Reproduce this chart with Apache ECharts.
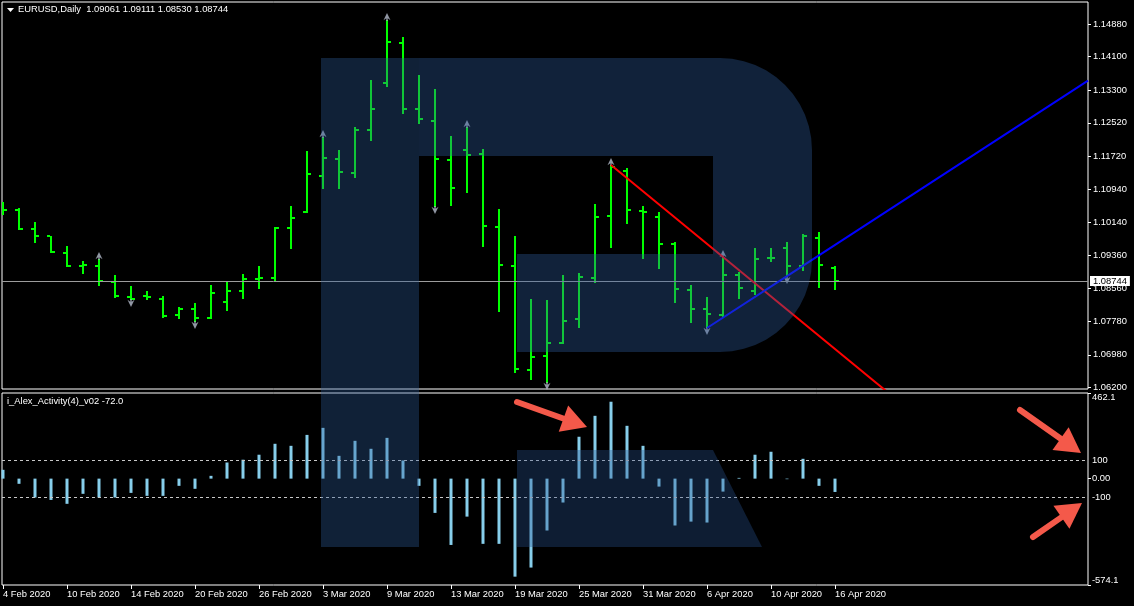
<!DOCTYPE html>
<html>
<head>
<meta charset="utf-8">
<style>
html,body{margin:0;padding:0;background:#000;}
#chart{width:1134px;height:606px;}
</style>
<script src="https://cdn.jsdelivr.net/npm/echarts@6/dist/echarts.min.js"></script>
</head>
<body>
<div id="chart"></div>
<script>
// ---------- DATA ----------
const symbolName = 'EURUSD,Daily';
const indicatorName = 'i_Alex_Activity(4)_v02';
const dates = [
  '4 Feb 2020','5 Feb 2020','6 Feb 2020','7 Feb 2020','10 Feb 2020','11 Feb 2020','12 Feb 2020','13 Feb 2020','14 Feb 2020','17 Feb 2020',
  '18 Feb 2020','19 Feb 2020','20 Feb 2020','21 Feb 2020','24 Feb 2020','25 Feb 2020','26 Feb 2020','27 Feb 2020','28 Feb 2020','2 Mar 2020',
  '3 Mar 2020','4 Mar 2020','5 Mar 2020','6 Mar 2020','9 Mar 2020','10 Mar 2020','11 Mar 2020','12 Mar 2020','13 Mar 2020','16 Mar 2020',
  '17 Mar 2020','18 Mar 2020','19 Mar 2020','20 Mar 2020','23 Mar 2020','24 Mar 2020','25 Mar 2020','26 Mar 2020','27 Mar 2020','30 Mar 2020',
  '31 Mar 2020','1 Apr 2020','2 Apr 2020','3 Apr 2020','6 Apr 2020','7 Apr 2020','8 Apr 2020','9 Apr 2020','10 Apr 2020','13 Apr 2020',
  '14 Apr 2020','15 Apr 2020','16 Apr 2020'
];
const openP = [1.10582,1.10438,1.09985,1.09817,1.09411,1.09101,1.09101,1.08719,1.08361,1.08385,
  1.08313,1.07931,1.08074,1.07859,1.08241,1.08504,1.08791,1.08814,1.10008,1.10390,
  1.11250,1.11656,1.11322,1.12349,1.13471,1.14426,1.12850,1.12564,1.11632,1.11871,
  1.11776,1.10032,1.09101,1.06617,1.06952,1.07262,1.07835,1.08814,1.10295,1.11370,
  1.10414,1.10271,1.09626,1.08528,1.08074,1.07931,1.08886,1.08504,1.09292,1.09531,
  1.09101,1.09770,1.09061];
const highP = [1.10629,1.10486,1.10152,1.09817,1.09579,1.09220,1.09268,1.08886,1.08623,1.08504,
  1.08385,1.08122,1.08217,1.08647,1.08719,1.08910,1.09101,1.10032,1.10534,1.11847,
  1.12181,1.11871,1.12420,1.13543,1.14975,1.14569,1.13662,1.13328,1.12205,1.12420,
  1.11895,1.10462,1.09817,1.08313,1.08289,1.08886,1.08934,1.10582,1.11513,1.11441,
  1.10534,1.10390,1.09674,1.08647,1.08361,1.09316,1.08958,1.09531,1.09531,1.09674,
  1.09865,1.09913,1.09111];
const lowP = [1.10319,1.09961,1.09650,1.09411,1.09077,1.08910,1.08623,1.08337,1.08289,1.08289,
  1.07859,1.07835,1.07764,1.07835,1.08026,1.08313,1.08552,1.08743,1.09507,1.10367,
  1.10940,1.10940,1.11202,1.12086,1.13375,1.12731,1.12492,1.10510,1.10534,1.10844,
  1.09555,1.08002,1.06546,1.06379,1.06307,1.07238,1.07620,1.08695,1.09531,1.10104,
  1.09268,1.09029,1.08217,1.07740,1.07620,1.07859,1.08313,1.08408,1.09196,1.08838,
  1.08982,1.08576,1.08530];
const closeP = [1.10438,1.09985,1.09817,1.09435,1.09101,1.09125,1.08743,1.08385,1.08313,1.08361,
  1.07907,1.08074,1.07859,1.08456,1.08504,1.08791,1.08814,1.10008,1.10247,1.11298,
  1.11680,1.11346,1.12349,1.12850,1.14450,1.12850,1.12611,1.11656,1.10964,1.11752,
  1.10056,1.09125,1.06641,1.06928,1.07262,1.07788,1.08838,1.10271,1.11465,1.10438,
  1.10390,1.09626,1.08552,1.08074,1.07955,1.08886,1.08576,1.09268,1.09292,1.09101,
  1.09817,1.09125,1.08744];
const activity = [47.6,-28,-102,-115,-136,-82,-102,-102,-77,-93,
  -93,-39,-55,15,87,102,129,188,177,236,
  274,123,204,161,220,98,-39,-185,-358,-205,
  -352,-352,-529,-480,-280,-129,226,339,415,285,
  177,-43,-253,-232,-237,-70,4,129,145,-3,
  107,-39,-72.0];
const fractalUpIdx = [6,20,24,29,38,45];
const fractalDownIdx = [8,12,27,34,44,49];
const redTrend = [[38,1.11513],[45,1.09316]];
const blueTrend = [[44,1.07620],[49,1.08860]];
const priceTicks = [1.06200,1.06980,1.07780,1.08560,1.09360,1.10140,1.10940,1.11720,1.12520,1.13300,1.14100,1.14880];
const indTickValues = [462.1,100,0,-100,-574.1];
const indTickLabels = ['462.1','100','0.00','-100','-574.1'];
const levelLines = [100,-100];
const dateLabelIdx = [0,4,8,12,16,20,24,28,32,36,40,44,48,52];

// ---------- CHART ----------
const FONT = 'Liberation Sans, Arial, sans-serif';
const FS = 9.4;
const N = dates.length;
const last = N - 1;
const xMin = -0.0625, xMax = 67.8125;
const chart = echarts.init(document.getElementById('chart'), null, {renderer:'canvas'});

function extendLine(p, xEnd){
  const s = (p[1][1]-p[0][1])/(p[1][0]-p[0][0]);
  return [p[0], p[1], [xEnd, p[0][1] + s*(xEnd-p[0][0])]];
}

const ohlcData = dates.map((d,i)=>[i, openP[i], highP[i], lowP[i], closeP[i]]);

function renderOhlc(params, api){
  const i = api.value(0);
  const pH = api.coord([i, api.value(2)]);
  const yL = api.coord([i, api.value(3)])[1];
  const yO = api.coord([i, api.value(1)])[1];
  const yC = api.coord([i, api.value(4)])[1];
  const cx = Math.round(pH[0]);
  const yH = Math.round(pH[1]);
  const style = {fill:'#00ff00'};
  return {type:'group', children:[
    {type:'rect', shape:{x:cx-1, y:yH, width:2, height:Math.max(2, Math.round(yL)-yH)}, style},
    {type:'rect', shape:{x:cx-4, y:Math.round(yO)-1, width:3, height:2}, style},
    {type:'rect', shape:{x:cx+1, y:Math.round(yC)-1, width:3, height:2}, style}
  ]};
}

const upPath = 'path://M5,0 L10,9 L6,6.5 L6,10 L4,10 L4,6.5 L0,9 Z';

// logo watermark (overlay) and annotation arrows (decoration, pixel placed)
function bowlPoints(){
  const pts = [[419,58],[720,58]];
  for(let k=1;k<=12;k++){const t=k/12*Math.PI/2; pts.push([720+92*Math.sin(t),150-92*Math.cos(t)]);}
  pts.push([812,260]);
  for(let k=1;k<=12;k++){const t=k/12*Math.PI/2; pts.push([720+92*Math.cos(t),260+92*Math.sin(t)]);}
  pts.push([517,352],[517,254],[713,254],[713,156],[419,156]);
  return pts;
}
function arrow(tail, tip){
  const dx = tip[0]-tail[0], dy = tip[1]-tail[1];
  const len = Math.hypot(dx,dy), ux = dx/len, uy = dy/len;
  const bx = tip[0]-25*ux, by = tip[1]-25*uy;
  const px = -uy*14, py = ux*14;
  return [
    {type:'line', z:120, silent:true, shape:{x1:tail[0], y1:tail[1], x2:bx+2*ux, y2:by+2*uy}, style:{stroke:'#f4594a', lineWidth:6, lineCap:'round'}},
    {type:'polygon', z:120, silent:true, shape:{points:[[tip[0],tip[1]],[bx+px,by+py],[bx-px,by-py]]}, style:{fill:'#f4594a'}}
  ];
}

const graphics = [
  {type:'polygon', z:50, shape:{points:[[7,8],[14,8],[10.5,12]]}, style:{fill:'#ffffff'}},
  {type:'rect', z:100, silent:true, shape:{x:321,y:58,width:98,height:489}, style:{fill:'rgba(46,92,155,0.355)'}},
  {type:'polygon', z:100, silent:true, shape:{points:bowlPoints()}, style:{fill:'rgba(48,95,160,0.36)'}},
  {type:'polygon', z:100, silent:true, shape:{points:[[517,450],[713,450],[762,547],[517,547]]}, style:{fill:'rgba(40,84,145,0.35)'}}
].concat(arrow([517,402],[587,427]), arrow([1020,410],[1081,453]), arrow([1033,537],[1082,503]));

const option = {
  backgroundColor:'#000',
  animation:false,
  textStyle:{fontFamily:FONT},
  title:[
    {text: symbolName + '  ' + [openP[last],highP[last],lowP[last],closeP[last]].map(v=>v.toFixed(5)).join(' '),
     left:18, top:5, padding:0, textStyle:{color:'#fff', fontSize:FS, fontWeight:'normal', fontFamily:FONT}},
    {text: indicatorName + ' ' + activity[last].toFixed(1),
     left:7, top:397, padding:0, textStyle:{color:'#fff', fontSize:FS, fontWeight:'normal', fontFamily:FONT}}
  ],
  grid:[
    {left:2, top:2, width:1086, height:387, show:true, borderColor:'#ffffff', borderWidth:1, backgroundColor:'#000'},
    {left:2, top:393, width:1086, height:192, show:true, borderColor:'#ffffff', borderWidth:1, backgroundColor:'#000'}
  ],
  xAxis:[
    {type:'value', gridIndex:0, min:xMin, max:xMax, show:false, axisLine:{onZero:false}},
    {type:'value', gridIndex:1, min:xMin, max:xMax, position:'bottom',
     axisLine:{show:false, onZero:false}, splitLine:{show:false},
     axisTick:{show:true, customValues:dateLabelIdx, length:4, inside:false, lineStyle:{color:'#fff'}},
     axisLabel:{show:true, customValues:dateLabelIdx, formatter:(v)=>dates[Math.round(v)], align:'left',
       color:'#fff', fontSize:FS, fontFamily:FONT, margin:5}}
  ],
  yAxis:[
    {type:'value', gridIndex:0, position:'right', min:1.06164, max:1.15405, scale:true,
     axisLine:{show:false, onZero:false}, splitLine:{show:false},
     axisTick:{show:true, customValues:priceTicks, length:3, lineStyle:{color:'#fff'}},
     axisLabel:{show:true, customValues:priceTicks, formatter:(v)=>v.toFixed(5), color:'#fff', fontSize:FS, fontFamily:FONT, margin:5}},
    {type:'value', gridIndex:1, position:'right', min:-574.1, max:462.1,
     axisLine:{show:false, onZero:false}, splitLine:{show:false},
     axisTick:{show:true, customValues:[462.1,0,-574.1], length:3, lineStyle:{color:'#fff'}},
     axisLabel:{show:true, customValues:indTickValues,
       formatter:(v)=>{const k=indTickValues.findIndex(t=>Math.abs(t-v)<1e-6); return k>=0?indTickLabels[k]:'';},
       verticalAlignMaxLabel:'bottom', verticalAlignMinLabel:'top',
       color:'#fff', fontSize:FS, fontFamily:FONT, margin:4}}
  ],
  graphic:graphics,
  series:[
    {type:'custom', name:'price', xAxisIndex:0, yAxisIndex:0, renderItem:renderOhlc, data:ohlcData, clip:true,
     encode:{x:0, y:[1,2,3,4]}, z:3},
    {type:'scatter', name:'fractalUp', xAxisIndex:0, yAxisIndex:0, symbol:upPath, symbolSize:[7,8], symbolOffset:[0,-3],
     itemStyle:{color:'#b4bccc'}, data:fractalUpIdx.map(i=>[i, highP[i]]), z:4,
     markLine:{silent:true, symbol:'none', animation:false, precision:5,
       data:[{yAxis:closeP[last]}],
       lineStyle:{color:'#9c9c9c', width:1, type:'solid'},
       label:{show:true, position:'end', formatter:closeP[last].toFixed(5), backgroundColor:'#ffffff', color:'#000',
         padding:[1,3,0,3], distance:2, fontSize:FS, fontFamily:FONT}}},
    {type:'scatter', name:'fractalDown', xAxisIndex:0, yAxisIndex:0, symbol:upPath, symbolRotate:180, symbolSize:[7,8], symbolOffset:[0,3],
     itemStyle:{color:'#b4bccc'}, data:fractalDownIdx.map(i=>[i, lowP[i]]), z:4},
    {type:'line', name:'redTrend', xAxisIndex:0, yAxisIndex:0, data:extendLine(redTrend, xMax), showSymbol:false, symbol:'none',
     lineStyle:{color:'#ff0000', width:2}, clip:true, z:5},
    {type:'line', name:'blueTrend', xAxisIndex:0, yAxisIndex:0, data:extendLine(blueTrend, xMax), showSymbol:false, symbol:'none',
     lineStyle:{color:'#0000ff', width:2}, clip:true, z:5},
    {type:'bar', name:'activity', xAxisIndex:1, yAxisIndex:1, barWidth:3, data:activity.map((v,i)=>[i,v]),
     itemStyle:{color:'#87ceeb'}, z:3,
     markLine:{silent:true, symbol:'none', animation:false, precision:2,
       data:levelLines.map(v=>({yAxis:v})),
       lineStyle:{color:'#c8c8c8', width:1, type:[3,3]}, label:{show:false}}}
  ]
};
chart.setOption(option);
</script>
</body>
</html>
